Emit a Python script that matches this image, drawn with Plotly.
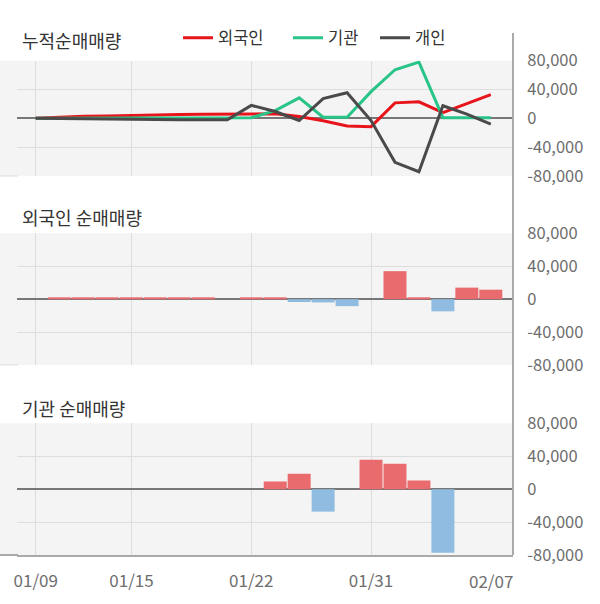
import plotly.graph_objects as go

# ---- data ----
dates = ['01/09', '01/10', '01/13', '01/14', '01/15', '01/16', '01/17', '01/20', '01/21', '01/22',
         '01/23', '01/28', '01/29', '01/30', '01/31', '02/03', '02/04', '02/05', '02/06', '02/07']

cum_foreign = [0, 1500, 2800, 3300, 4200, 4800, 5200, 5600, 6000, 6800,
               6300, 2500, -3200, -10500, -11500, 21500, 23000, 8000, 20800, 32800]
cum_inst = [0, 0, 0, 1000, 1000, 1000, 1000, 1000, 1000, 1000,
            10800, 28500, 1500, 1500, 37000, 67500, 78000, 1000, 1000, 1000]
cum_indiv = [0, -500, -1000, -1500, -1500, -1800, -2000, -2000, -2000, 18000,
             9500, -3000, 27500, 35500, -3000, -61000, -74000, 17500, 6000, -8000]

daily_foreign = [0, 1700, 1700, 1700, 1700, 1700, 1700, 1700, 0, 1700,
                 1700, -3500, -4000, -8500, 0, 34000, 1800, -14800, 14000, 11500]
daily_inst = [0, 0, 0, 0, 0, 0, 0, 0, 0, 0,
              9300, 18700, -27300, 0, 35800, 30900, 10600, -77300, 0, 0]

series_names = ['외국인', '기관', '개인']
panel_titles = ['누적순매매량', '외국인 순매매량', '기관 순매매량']
grid_dates = ['01/09', '01/15', '01/22', '01/31']
last_date_label = '02/07'
y_ticks = [80000, 40000, 0, -40000, -80000]

# ---- styling / layout constants ----
W, H = 600, 604
PLOT_R = 513          # right edge of the plot area (px)
PLOT_L = 17           # left edge of the gridded area (px)
FONT = 'Noto Sans CJK KR'
BG = '#f4f4f4'
GRID = '#dddddd'
TICK_COLOR = '#6e6e6e'
line_colors = ['#e8141b', '#29c488', '#4a4a4a']
POS, NEG = '#e96b6e', '#8fbce0'

def py(px_from_top):
    return (H - px_from_top) / H

def px_x(px):
    return px / PLOT_R

panels = [(60.7, 176.0), (233.3, 365.0), (423.3, 555.0)]   # top/bottom in px

fig = go.Figure()

for name, vals, col, lg in zip(series_names, [cum_foreign, cum_inst, cum_indiv],
                               line_colors, ['legend', 'legend2', 'legend3']):
    fig.add_trace(go.Scatter(x=dates, y=vals, mode='lines', name=name,
                             line=dict(color=col, width=3), legend=lg,
                             xaxis='x', yaxis='y'))

fig.add_trace(go.Bar(x=dates, y=daily_foreign, showlegend=False,
                     marker=dict(color=[POS if v >= 0 else NEG for v in daily_foreign], line_width=0),
                     xaxis='x2', yaxis='y2'))
fig.add_trace(go.Bar(x=dates, y=daily_inst, showlegend=False,
                     marker=dict(color=[POS if v >= 0 else NEG for v in daily_inst], line_width=0),
                     xaxis='x3', yaxis='y3'))

x_range = [-0.781, 19.927]
xa = dict(type='category', domain=[px_x(PLOT_L), 1], range=x_range,
          categoryorder='array', categoryarray=dates,
          tickmode='array', tickvals=grid_dates, ticktext=grid_dates,
          showgrid=True, gridcolor=GRID, gridwidth=1, zeroline=False,
          fixedrange=True)
ya = dict(side='right', range=[-80000, 80000], tickmode='array', tickvals=y_ticks,
          ticktext=[f'{v:,}' for v in y_ticks], showgrid=True, gridcolor=GRID, gridwidth=1,
          zeroline=True, zerolinecolor='#777777', zerolinewidth=2,
          ticks='outside', ticklen=10, tickcolor='rgba(0,0,0,0)',
          tickfont=dict(family=FONT, size=16.5, color=TICK_COLOR), fixedrange=True)

layout = dict(
    width=W, height=H,
    margin=dict(l=0, r=W - PLOT_R, t=0, b=0, autoexpand=False),
    paper_bgcolor='white', plot_bgcolor=BG,
    font=dict(family=FONT, color='#333333'),
    bargap=0.04,
    hovermode=False,
)
for i, (top, bot) in enumerate(panels):
    sfx = '' if i == 0 else str(i + 1)
    x = dict(xa, anchor='y' + sfx)
    if i > 0:
        x['matches'] = 'x'
    if i < 2:
        x.update(showticklabels=False, ticks='')
    else:
        x.update(showticklabels=True, ticks='outside', ticklen=10,
                 tickcolor='rgba(0,0,0,0)',
                 tickfont=dict(family=FONT, size=17, color=TICK_COLOR),
                 showline=True, linecolor='#aaaaaa', linewidth=2)
    layout['xaxis' + sfx] = x
    layout['yaxis' + sfx] = dict(ya, anchor='x' + sfx, domain=[py(bot), py(top)])

leg_x = [178, 288, 375]
for i, lx in enumerate(leg_x):
    key = 'legend' if i == 0 else f'legend{i + 1}'
    layout[key] = dict(x=px_x(lx), y=py(38), xanchor='left', yanchor='middle',
                       orientation='h', bgcolor='rgba(0,0,0,0)',
                       font=dict(family=FONT, size=16.5, color='#333333'))

fig.update_layout(**layout)

shapes = []
for i, (top, bot) in enumerate(panels):
    shapes.append(dict(type='rect', xref='paper', yref='paper', x0=0, x1=px_x(PLOT_L),
                       y0=py(bot), y1=py(top), fillcolor=BG, line=dict(width=0), layer='below'))
    shapes.append(dict(type='line', xref='paper', yref='paper', x0=0, x1=px_x(PLOT_L) + 0.002,
                       y0=py(bot), y1=py(bot),
                       line=dict(color='#aaaaaa' if i == 2 else GRID, width=2 if i == 2 else 1)))
shapes.append(dict(type='line', xref='paper', yref='paper', x0=1, x1=1,
                   y0=py(555), y1=py(33), line=dict(color='#aaaaaa', width=2)))
fig.update_layout(shapes=shapes)

annotations = []
for title, ypx in zip(panel_titles, [40, 217, 408]):
    annotations.append(dict(text=title, xref='paper', yref='paper', x=px_x(20), y=py(ypx),
                            xanchor='left', yanchor='middle', showarrow=False,
                            font=dict(family=FONT, size=18, color='#333333')))
annotations.append(dict(text=last_date_label, xref='x3', yref='paper', x=last_date_label,
                        y=py(580), xanchor='center', yanchor='middle', showarrow=False,
                        font=dict(family=FONT, size=17, color=TICK_COLOR)))
fig.update_layout(annotations=annotations)

fig.write_html('out.html')
